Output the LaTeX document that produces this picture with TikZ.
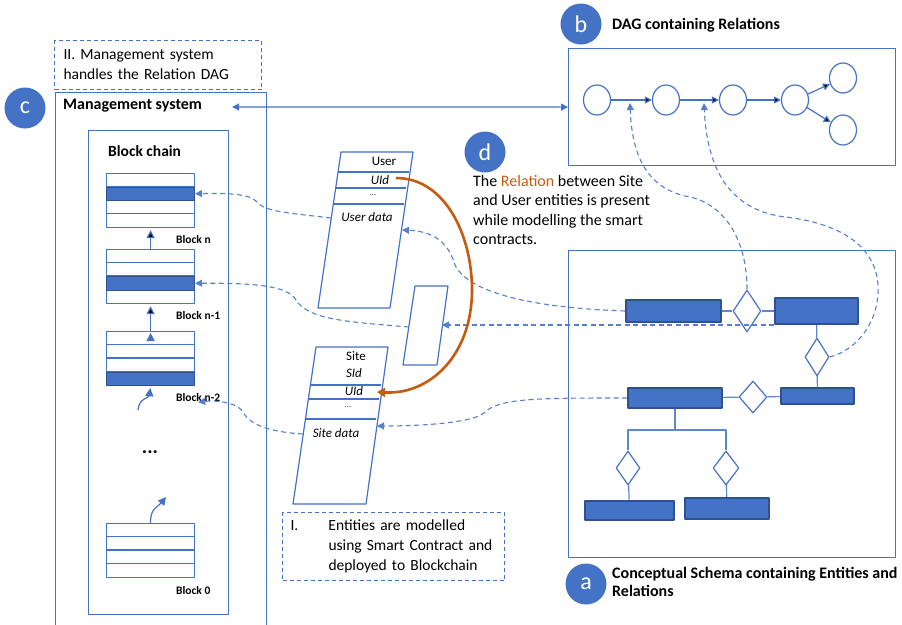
\documentclass[tikz,border=0pt]{standalone}
\usepackage{fontspec}
\setmainfont{Carlito}
\usepackage{tikz}
\usetikzlibrary{arrows.meta}
\usetikzlibrary{shapes.geometric}
\definecolor{msblue}{HTML}{4472C4}
\definecolor{msdark}{HTML}{2F528F}
\definecolor{msorange}{HTML}{C55A11}
\tikzset{frame/.style={draw=msblue,line width=1.2pt,inner sep=0pt}}
\tikzset{badge/.style={circle,fill=msblue,text=white,minimum size=41pt,
                       inner sep=0pt,font=\fontsize{24}{24}\selectfont}}

\begin{document}
\begin{tikzpicture}[x=1pt,y=-1pt,>={Triangle[length=7pt,width=7pt]},line join=round]
    % one unit is one pixel of the sketch, y runs downwards
  \useasboundingbox (0,0) rectangle (902,624);
  \tikzstyle{title}=[font=\fontsize{16}{18}\selectfont\bfseries,inner sep=0pt]
  \tikzstyle{note}=[draw=msblue,dashed,dash pattern=on 4pt off 3pt,line width=1pt,
                    font=\fontsize{15.5}{20}\selectfont,anchor=north west,align=left]
  \tikzstyle{block}=[draw=msblue,line width=1.2pt,minimum width=88pt,
                     minimum height=54pt,inner sep=0pt,anchor=north west]
  \tikzstyle{row}=[fill=msblue,draw=msdark,line width=1pt,minimum width=88pt,
                   minimum height=13.5pt,inner sep=0pt,anchor=north west]
  \tikzstyle{blocklabel}=[font=\fontsize{11.5}{12}\selectfont\bfseries,inner sep=0pt,anchor=west]
  \tikzstyle{chainarrow}=[draw=msblue,line width=1.2pt,->,>={Triangle[length=8pt,width=8pt]},
                          shorten >=2pt]
  \tikzstyle{contract}=[draw=msblue,line width=1.2pt]
  \tikzstyle{field}=[font=\fontsize{13}{13}\selectfont,inner sep=0pt]
  \tikzstyle{ifield}=[font=\fontsize{13}{13}\selectfont\itshape,inner sep=0pt]
  \tikzstyle{dagnode}=[ellipse,draw=msblue,line width=1.2pt,minimum width=27pt,
                       minimum height=30pt,inner sep=0pt]
  \tikzstyle{entity}=[fill=msblue,draw=msdark,line width=2pt,inner sep=0pt]
  \tikzstyle{relship}=[diamond,draw=msblue,fill=white,line width=1.2pt,inner sep=0pt]
  \tikzstyle{erline}=[draw=msblue!85,line width=1.2pt]
  \tikzstyle{link}=[draw=msblue!90,dashed,dash pattern=on 5pt off 3.5pt,line width=1.1pt,->]

  % Frames
  \node (mgmt) [frame,anchor=north west,minimum width=211pt,minimum height=534pt] at (55,92) {};
  \node (chain) [frame,anchor=north west,minimum width=140pt,minimum height=484pt] at (88,130) {};
  \node (dag) [frame,anchor=north west,minimum width=327pt,minimum height=117pt] at (568,48) {};
  \node (schema) [frame,anchor=north west,minimum width=327pt,minimum height=307pt] at (568,250) {};

  \node (mgmt-title) [title,anchor=west] at (63,106) {Management system};
  \node (chain-title) [title,font=\fontsize{15.5}{17}\selectfont\bfseries,anchor=west] at (108,151) {Block chain};
  \node (dag-title) [title,anchor=west] at (612,25) {DAG containing Relations};
  \node (schema-title) [title,anchor=north west,align=left] at (612,567)
        {Conceptual Schema containing Entities and\\Relations};

  \node (note-mgmt) [note,text width=189pt,inner xsep=9pt,minimum height=49pt] at (54,40)
        {II. Management system\\handles the Relation DAG};
  \node (note-chain) [note,text width=206pt,inner xsep=8pt,minimum height=68pt] at (282,512)
        {\begin{tabular}{@{}p{38pt}@{}l@{}}I. & Entities are modelled\\
         & using Smart Contract and\\ & deployed to Blockchain\end{tabular}};

  % The blocks of the chain, with the row that holds the contract
  \foreach \blk/\top/\key/\txt in {n/173/2/n,n1/249/3/n-1,n2/331/4/n-2,0/523/0/0}{
    \node (blk-\blk) [block] at (106,\top) {};
    \foreach \r in {1,2,3}
      \draw[contract] (106,{\top+13.5*\r}) -- ++(88,0);
    \ifnum\key>0
      \node (key-\blk) [row] at (106,{\top+13.5*(\key-1)}) {};
    \fi
    \node (lbl-\blk) [blocklabel] at (176,{\top+67}) {Block \txt};
  }
  \node (chain-dots) [font=\fontsize{20}{20}\selectfont\bfseries,inner sep=0pt] at (150,452) {...};
  \coordinate (gap-top) at (138,410);
  \coordinate (gap-bot) at (166,497);

  \path[chainarrow]
      (blk-n1.north) edge (blk-n.south)
      (blk-n2.north) edge (blk-n1.south);
  \draw[chainarrow] (gap-top) .. controls (139,398) and (149,398) .. (blk-n2.south);
  \draw[chainarrow,shorten >=0pt] (blk-0.north) .. controls (150,508) and (158,507) .. (gap-bot);

  % Smart contracts
  \draw[contract] (341,152) -- (413,152) -- (390,308) -- (318,308) -- cycle;
  \draw[contract] (338.1,172) -- (409,172);
  \draw[contract] (335.7,188) -- (406,188);
  \draw[contract] (333.3,204) -- (404,204);
  \node (user-name) [field] at (384,161) {User};
  \node (user-uid) [ifield] at (380,180) {UId};
  \node (user-dots) [field,font=\fontsize{8}{8}\selectfont] at (373,195) {...};
  \node (user-data) [ifield] at (367,217) {User data};

  \draw[contract] (316,347) -- (388,347) -- (366,504) -- (293,504) -- cycle;
  \draw[contract] (310.4,385) -- (381,385);
  \draw[contract] (308.4,399) -- (379,399);
  \draw[contract] (305.5,419) -- (376,419);
  \node (site-name) [field] at (356,356) {Site};
  \node (site-sid) [ifield] at (354,373) {SId};
  \node (site-uid) [ifield] at (354,391) {UId};
  \node (site-dots) [field,font=\fontsize{8}{8}\selectfont] at (348,407) {...};
  \node (site-data) [ifield] at (336,433) {Site data};

  \draw[contract] (415,286) -- (448,286) -- (437,365) -- (403,365) -- cycle;

  \coordinate (user-in) at (402,230);
  \coordinate (user-out) at (331,218);
  \coordinate (site-in) at (377,426);
  \coordinate (site-out) at (303,434);
  \coordinate (ctr-in) at (442,325);
  \coordinate (ctr-out) at (409,327);
  \coordinate (uid-from) at (396,178);
  \coordinate (uid-to) at (377,392);

  % DAG of relations
  \node (v1) [dagnode] at (597,100) {};
  \node (v2) [dagnode] at (666,100) {};
  \node (v3) [dagnode] at (733,100) {};
  \node (v4) [dagnode] at (795,100) {};
  \node (v5) [dagnode] at (843,78) {};
  \node (v6) [dagnode] at (843,130) {};
  \path[->,draw=msblue,line width=1.2pt]
      (v1) edge (v2)
      (v2) edge (v3)
      (v3) edge (v4)
      (v4) edge (v5)
      (v4) edge (v6);
  \coordinate (r1) at (630,103);
  \coordinate (r2) at (704,103);

  % Conceptual schema
  \node (e1) [entity,minimum width=95pt,minimum height=22pt] at (673.5,311) {};
  \node (e2) [entity,minimum width=83pt,minimum height=26pt] at (816.5,311) {};
  \node (e3) [entity,minimum width=73pt,minimum height=16pt] at (817.5,396) {};
  \node (e4) [entity,minimum width=94pt,minimum height=20pt] at (675,398) {};
  \node (e5) [entity,minimum width=89pt,minimum height=19pt] at (629.5,510.5) {};
  \node (e6) [entity,minimum width=84pt,minimum height=21pt] at (727,508.5) {};
  \node (d1) [relship,minimum width=28pt,minimum height=42pt] at (747,311) {};
  \node (d2) [relship,minimum width=24pt,minimum height=38pt] at (817,357) {};
  \node (d3) [relship,minimum width=28pt,minimum height=32pt] at (753,397) {};
  \node (d4) [relship,minimum width=24pt,minimum height=34pt] at (628,468) {};
  \node (d5) [relship,minimum width=26pt,minimum height=34pt] at (726,468) {};
  \path[erline]
      (e1) edge (d1)
      (d1) edge (e2)
      (e2) edge (d2)
      (d2) edge (e3)
      (e4) edge (d3)
      (d3) edge (e3)
      (d4) edge (e5)
      (d5) edge (e6);
  \draw[erline] (e4.south) -- ++(0,21) coordinate (fork);
  \draw[erline] (d4.north) |- (fork) -| (d5.north);

  % Traces between the parts
  \coordinate (mgmt-port) at (232,107);
  \draw[draw=msblue,line width=1.2pt,<->] (mgmt-port) -- (dag.west);
  \draw[link] (d1.north) .. controls (747,240) and (725,205) .. (690,197)
              .. controls (650,190) and (632,160) .. (r1);
  \draw[link] (d2.east) .. controls (858,350) and (880,320) .. (878,285)
              .. controls (875,240) and (830,222) .. (785,217)
              .. controls (730,210) and (707,170) .. (r2);
  \draw[link] (e1.west) .. controls (540,308) and (470,295) .. (455,265)
              .. controls (448,240) and (430,231) .. (user-in);
  \draw[link] (e2.south west) -- (ctr-in);
  \draw[link] (ctr-out) .. controls (350,322) and (308,320) .. (296,300)
              .. controls (288,285) and (250,283) .. (key-n1.east);
  \draw[link] (user-out) .. controls (290,213) and (265,212) .. (257,202)
              .. controls (250,194) and (230,193) .. (key-n.east);
  \draw[link] (e4.west) .. controls (540,398) and (500,398) .. (485,412)
              .. controls (475,423) and (420,426) .. (site-in);
  \draw[link] (site-out) .. controls (270,432) and (250,425) .. (243,412)
              .. controls (237,402) and (215,400) .. (lbl-n2.south);
  \draw[draw=msorange,line width=2.6pt,->,>={Triangle[length=8pt,width=9pt]}]
      (uid-from) .. controls (445,178) and (472,235) .. (472,290)
      .. controls (472,355) and (430,395) .. (uid-to);

  % Badges and the note on the relation
  \node (badge-c) [badge] at (25,108) {c};
  \node (badge-b) [badge] at (581,24) {b};
  \node (badge-d) [badge] at (485,152) {d};
  \node (badge-a) [badge] at (586,584) {a};
  \node (d-text) [anchor=north west,inner sep=0pt,align=left,
                  font=\fontsize{16}{19.5}\selectfont] at (473,175)
        {The \textcolor{msorange}{Relation} between Site\\and User entities is present\\
         while modelling the smart\\contracts.};
\end{tikzpicture}
\end{document}
